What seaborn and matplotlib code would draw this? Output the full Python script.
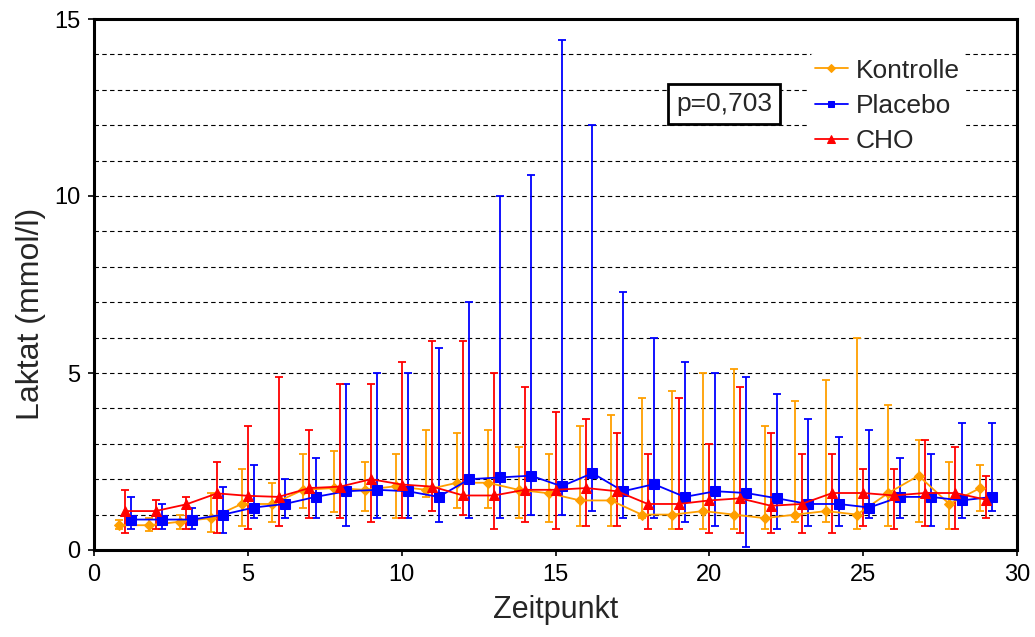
import matplotlib
matplotlib.use("Agg")
import matplotlib.pyplot as plt
import seaborn as sns
import pandas as pd

# Zeitpunkte 1..29
zeitpunkt = list(range(1, 30))

# Kontrolle: Wert, untere und obere Grenze
kontrolle = [0.7, 0.7, 0.8, 0.9, 1.3, 1.3, 1.7, 1.75, 1.7, 1.8,
             1.7, 1.9, 1.9, 1.7, 1.6, 1.4, 1.4, 1.0, 1.0, 1.1,
             1.0, 0.9, 1.0, 1.1, 1.0, 1.6, 2.1, 1.3, 1.75]
kontrolle_lo = [0.6, 0.55, 0.58, 0.5, 0.68, 0.8, 1.2, 1.08, 1.1, 0.9,
                1.5, 1.2, 1.2, 0.9, 0.8, 0.69, 0.69, 0.9, 0.59, 0.59,
                0.59, 0.6, 0.8, 0.8, 0.59, 0.69, 0.8, 0.59, 1.1]
kontrolle_hi = [0.85, 0.9, 1.0, 1.6, 2.3, 1.9, 2.7, 2.8, 2.5, 2.7,
                3.4, 3.3, 3.4, 2.9, 2.7, 3.5, 3.8, 4.3, 4.5, 5.0,
                5.1, 3.5, 4.2, 4.8, 6.0, 4.1, 3.1, 2.5, 2.4]

# Placebo
placebo = [0.86, 0.86, 0.86, 1.0, 1.2, 1.3, 1.5, 1.66, 1.7, 1.66,
           1.5, 2.0, 2.05, 2.1, 1.8, 2.17, 1.66, 1.86, 1.5, 1.66,
           1.61, 1.46, 1.3, 1.3, 1.2, 1.5, 1.5, 1.4, 1.5]
placebo_lo = [0.58, 0.58, 0.58, 0.49, 0.9, 0.9, 0.9, 0.69, 0.9, 0.9,
              0.79, 0.89, 0.9, 1.0, 1.0, 1.1, 0.89, 0.89, 0.79, 0.69,
              0.09, 0.59, 0.69, 0.69, 0.89, 0.89, 0.69, 0.89, 1.1]
placebo_hi = [1.5, 1.3, 1.19, 1.79, 2.4, 2.0, 2.6, 4.7, 5.0, 5.0,
              5.7, 7.0, 10.0, 10.6, 14.4, 12.0, 7.3, 6.0, 5.3, 5.0,
              4.9, 4.4, 3.7, 3.2, 3.4, 2.6, 2.7, 3.6, 3.6]

# CHO
cho = [1.1, 1.1, 1.29, 1.6, 1.53, 1.5, 1.75, 1.79, 2.0, 1.85,
       1.79, 1.54, 1.54, 1.7, 1.7, 1.75, 1.66, 1.3, 1.3, 1.4,
       1.46, 1.25, 1.3, 1.61, 1.61, 1.54, 1.61, 1.61, 1.42]
cho_lo = [0.49, 0.58, 0.58, 0.49, 0.58, 0.69, 0.89, 0.89, 0.79, 0.89,
          1.1, 1.0, 0.59, 0.79, 0.59, 0.69, 0.69, 0.59, 0.59, 0.49,
          0.49, 0.49, 0.49, 0.49, 0.69, 0.59, 0.69, 0.59, 0.89]
cho_hi = [1.7, 1.4, 1.5, 2.5, 3.5, 4.9, 3.4, 4.7, 4.7, 5.3,
          5.9, 5.9, 5.0, 4.6, 3.9, 3.7, 3.3, 2.7, 4.3, 3.0,
          4.6, 3.3, 2.7, 2.7, 2.3, 2.3, 3.1, 2.9, 2.1]

gruppen = ["Kontrolle", "Placebo", "CHO"]
farben = {"Kontrolle": "#FF9F00", "Placebo": "#0000FF", "CHO": "#FF0000"}
marker = {"Kontrolle": "D", "Placebo": "s", "CHO": "^"}
msize = {"Kontrolle": 5.5, "Placebo": 7, "CHO": 7.5}
versatz = {"Kontrolle": -0.2, "Placebo": 0.2, "CHO": 0.0}

werte = {"Kontrolle": (kontrolle, kontrolle_lo, kontrolle_hi),
         "Placebo": (placebo, placebo_lo, placebo_hi),
         "CHO": (cho, cho_lo, cho_hi)}

# Long-Format fuer seaborn
rows = []
for g in gruppen:
    mid, lo, hi = werte[g]
    for t, m, l, h in zip(zeitpunkt, mid, lo, hi):
        rows.append({"Gruppe": g, "x": t + versatz[g], "Laktat": m, "lo": l, "hi": h})
df = pd.DataFrame(rows)

sns.set_style("white")
plt.rcParams["font.family"] = ["Liberation Sans", "DejaVu Sans"]

fig = plt.figure(figsize=(10.35, 6.37), dpi=100)
ax = fig.add_axes([94 / 1035, 1 - 550 / 637, 923 / 1035, 531 / 637])

# dashed grid every 1 mmol/l
for yy in range(1, 15):
    ax.axhline(yy, color="black", lw=0.8, ls=(0, (4, 3)), zorder=0)

# error bars first, then lines/markers
for g in gruppen:
    d = df[df["Gruppe"] == g]
    ax.errorbar(d["x"], d["Laktat"],
                yerr=[d["Laktat"] - d["lo"], d["hi"] - d["Laktat"]],
                fmt="none", ecolor=farben[g], elinewidth=1.3,
                capsize=3, capthick=1.3, zorder=2)

for g in gruppen:
    d = df[df["Gruppe"] == g]
    sns.lineplot(data=d, x="x", y="Laktat", ax=ax, color=farben[g],
                 marker=marker[g], markersize=msize[g], markeredgecolor=farben[g],
                 linewidth=1.3, label=g, zorder=3, estimator=None)

ax.set_xlim(0, 30)
ax.set_ylim(0, 15)
ax.set_xticks(range(0, 31, 5))
ax.set_yticks([0, 5, 10, 15])
ax.tick_params(axis="both", labelsize=17, direction="out", length=4, width=1.2,
               colors="black", bottom=True, left=True, pad=6)
ax.set_xlabel("Zeitpunkt", fontsize=22)
ax.xaxis.set_label_coords(0.5, -0.085)
ax.set_ylabel("Laktat (mmol/l)", fontsize=23)
ax.yaxis.set_label_coords(-0.052, 0.445)

for s in ax.spines.values():
    s.set_color("black")
    s.set_linewidth(2.2)

leg = ax.legend(loc="upper right", bbox_to_anchor=(0.958, 0.96), frameon=True,
                fontsize=19, handlelength=1.25, handletextpad=0.3,
                labelspacing=0.42, borderpad=0.2, markerscale=0.7)
leg.get_frame().set_edgecolor("white")
leg.get_frame().set_facecolor("white")
leg.get_frame().set_alpha(1)

ax.text(0.683, 0.84, "p=0,703", transform=ax.transAxes, fontsize=19,
        ha="center", va="center", zorder=5,
        bbox=dict(boxstyle="square,pad=0.3", fc="white", ec="black", lw=2))

fig.savefig("out.png", dpi=100)
